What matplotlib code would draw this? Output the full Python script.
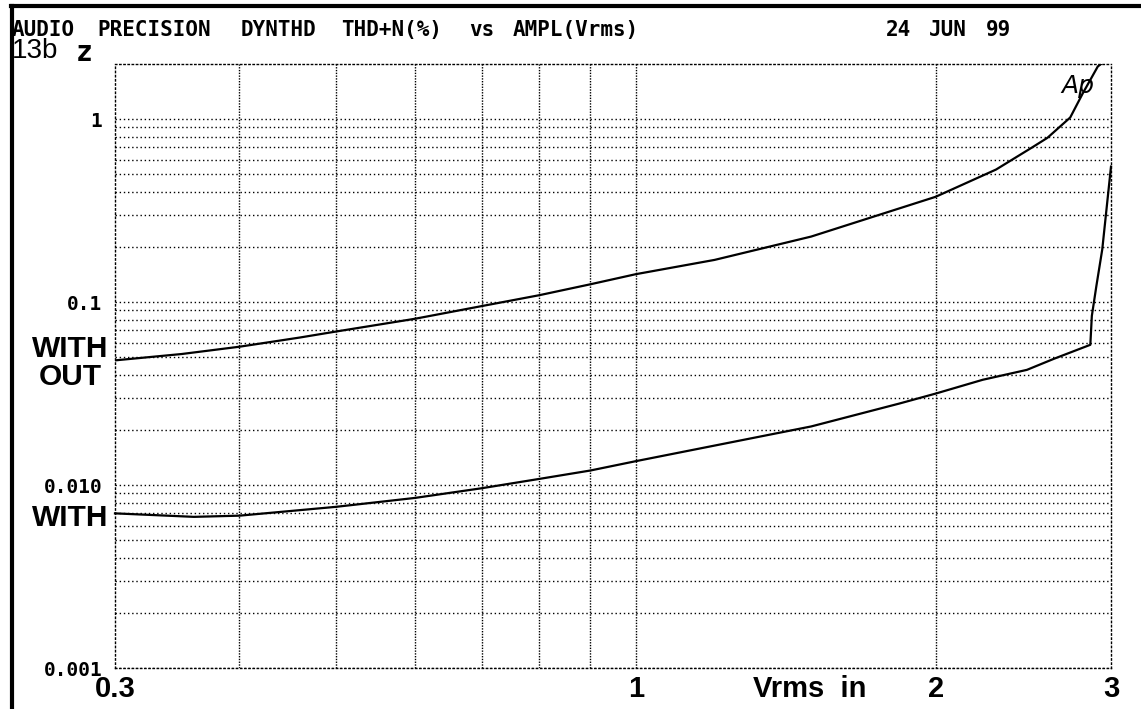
import matplotlib
matplotlib.use("Agg")
import matplotlib.pyplot as plt
from matplotlib.lines import Line2D
from matplotlib.ticker import FixedLocator, NullFormatter, FixedFormatter

# ---- data ----
without_x = [0.30, 0.35, 0.40, 0.46, 0.50, 0.60, 0.70, 0.80, 0.90, 1.00, 1.20, 1.50,
             2.00, 2.30, 2.50, 2.59, 2.73, 2.81, 2.91, 2.95]
without_y = [0.048, 0.052, 0.057, 0.064, 0.069, 0.081, 0.095, 0.109, 0.125, 0.142, 0.170, 0.228,
             0.376, 0.53, 0.70, 0.79, 1.02, 1.38, 1.94, 2.05]

with_x = [0.30, 0.36, 0.40, 0.50, 0.60, 0.70, 0.80, 0.90, 1.00, 1.50, 1.84, 2.00, 2.23,
          2.47, 2.63, 2.86, 2.87, 2.90, 2.94, 3.00]
with_y = [0.0070, 0.0067, 0.0068, 0.0076, 0.0085, 0.0096, 0.0108, 0.0120, 0.0135, 0.0209,
          0.0279, 0.0316, 0.0376, 0.0426, 0.0490, 0.0584, 0.084, 0.122, 0.194, 0.55]

x_ticks = [0.3, 1, 2, 3]
x_tick_labels = ["0.3", "1", "2", "3"]
x_grid = [0.4, 0.5, 0.6, 0.7, 0.8, 0.9, 1.0, 2.0]
y_ticks = [0.001, 0.01, 0.1, 1]
y_tick_labels = ["0.001", "0.010", "0.1", "1"]

title_text = "AUDIO PRECISION DYNTHD THD+N(%) vs AMPL(Vrms)"
date_text = "24 JUN 99"

W, H = 1141, 709
fig = plt.figure(figsize=(W / 100, H / 100), dpi=100)
L, R, T, B = 115, 1111, 64, 668
ax = fig.add_axes([L / W, 1 - B / H, (R - L) / W, (B - T) / H])
ax.set_xscale("log")
ax.set_yscale("log")
ax.set_xlim(0.3, 3)
ax.set_ylim(0.001, 2)

dot = (0, (1, 2))
# grid
for xv in x_grid:
    ax.axvline(xv, color="black", lw=1.0, ls=(0, (1, 1)), zorder=1)
for dec in [0.001, 0.01, 0.1, 1]:
    for m in range(1, 10):
        v = dec * m
        if 0.001 <= v < 2:
            ax.axhline(v, color="black", lw=1.0, ls=dot, zorder=1)
for s in ax.spines.values():
    s.set_linestyle(dot)
    s.set_linewidth(1.0)

ax.plot(without_x, without_y, color="black", lw=1.6, zorder=3, clip_on=True)
ax.plot(with_x, with_y, color="black", lw=1.6, zorder=3, clip_on=False)

ax.xaxis.set_major_locator(FixedLocator(x_ticks))
ax.xaxis.set_major_formatter(FixedFormatter(x_tick_labels))
ax.xaxis.set_minor_locator(FixedLocator([]))
ax.xaxis.set_minor_formatter(NullFormatter())
ax.yaxis.set_major_locator(FixedLocator(y_ticks))
ax.yaxis.set_major_formatter(FixedFormatter(y_tick_labels))
ax.yaxis.set_minor_locator(FixedLocator([]))
ax.yaxis.set_minor_formatter(NullFormatter())
ax.tick_params(axis="both", length=0)
ax.tick_params(axis="x", pad=5)
ax.tick_params(axis="y", pad=9)
for lab in ax.get_xticklabels():
    lab.set_fontfamily("Liberation Sans")
    lab.set_fontweight("bold")
    lab.set_fontsize(21)
for lab in ax.get_yticklabels():
    lab.set_fontfamily("DejaVu Sans Mono")
    lab.set_fontweight("bold")
    lab.set_fontsize(14)

# title: monospaced grid of ~14.3 px per character, words placed on it
char_w = 14.3
col = 0
for word in title_text.split(" "):
    fig.text((12 + col * char_w) / W, 1 - 30 / H, word, family="DejaVu Sans Mono",
             weight="bold", fontsize=15, ha="left", va="center")
    col += len(word) + 1
col = 0
for word in date_text.split(" "):
    fig.text((886 + col * char_w) / W, 1 - 30 / H, word, family="DejaVu Sans Mono",
             weight="bold", fontsize=15, ha="left", va="center")
    col += len(word) + 1

fig.text(12 / W, 1 - 51 / H, "13b", family="Liberation Sans", fontsize=20,
         ha="left", va="center")
fig.text(76 / W, 1 - 53 / H, "z", family="DejaVu Sans Mono", weight="bold", fontsize=20,
         ha="left", va="center")
fig.text(810 / W, 1 - 689 / H, "Vrms  in", family="Liberation Sans", weight="bold",
         fontsize=21, ha="center", va="center")
fig.text(70 / W, 1 - 349 / H, "WITH", family="Liberation Sans", weight="bold",
         fontsize=21.5, ha="center", va="center")
fig.text(70 / W, 1 - 377 / H, "OUT", family="Liberation Sans", weight="bold",
         fontsize=21.5, ha="center", va="center")
fig.text(70 / W, 1 - 518 / H, "WITH", family="Liberation Sans", weight="bold",
         fontsize=21.5, ha="center", va="center")
fig.text(1078 / W, 1 - 86 / H, "Ap", family="DejaVu Sans", style="italic",
         fontsize=18, ha="center", va="center")

# frame lines
fig.add_artist(Line2D([12 / W, 12 / W], [0, 1 - 6 / H], color="black", lw=3))
fig.add_artist(Line2D([11 / W, 1], [1 - 6 / H, 1 - 6 / H], color="black", lw=3))

fig.savefig("out.png", dpi=100)
